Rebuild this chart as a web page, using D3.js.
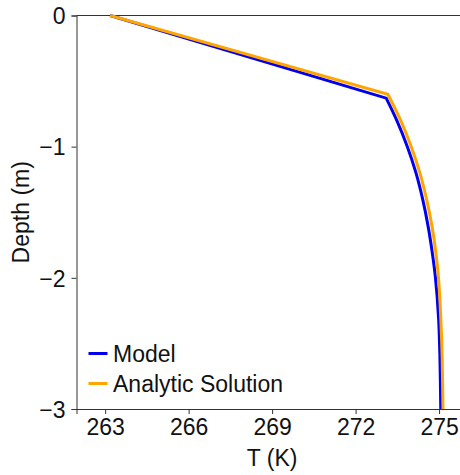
<!DOCTYPE html>
<html><head><meta charset="utf-8">
<script src="https://cdn.jsdelivr.net/npm/d3@7"></script>
<style>body{margin:0;background:#fff}svg{display:block}text{font-family:"Liberation Sans",Arial,sans-serif}</style>
</head><body><svg id="c" width="460" height="475"></svg>
<script>
const modelDepth = [0, -0.63, -0.8, -1.0, -1.2, -1.4, -1.6, -1.8, -2.0, -2.3, -2.6, -3.0];
const modelT     = [263.18, 273.10, 273.48, 273.86, 274.17, 274.41, 274.60, 274.75, 274.87, 274.98, 275.03, 275.06];
const analyticDepth = [0, -0.60, -0.8, -1.0, -1.2, -1.4, -1.6, -1.8, -2.0, -2.3, -2.6, -3.0];
const analyticT     = [263.18, 273.16, 273.62, 274.00, 274.31, 274.55, 274.74, 274.88, 274.98, 275.06, 275.11, 275.14];
const xTicks = [263, 266, 269, 272, 275];
const yTicks = [0, -1, -2, -3];
const seriesNames = ["Model", "Analytic Solution"];
const seriesColors = ["#0000ee", "#ffa500"];

const svg = d3.select("#c");
const x = d3.scaleLinear().domain([261.97, 276]).range([76.5, 466.9]);
const y = d3.scaleLinear().domain([0, -3]).range([15.5, 409]);

const fontSize = 23;
const ax = "#333";
const ff = '"Liberation Sans",Arial,sans-serif';

svg.append("line").attr("x1", x(261.97)).attr("x2", 470).attr("y1", y(0)).attr("y2", y(0)).attr("stroke", ax).attr("stroke-width", 1);

const xa = svg.append("g").attr("transform", `translate(0,${y(-3)})`)
  .call(d3.axisBottom(x).tickValues(xTicks).tickSize(5).tickPadding(5).tickFormat(d3.format("d")));
const ya = svg.append("g").attr("transform", `translate(${x(261.97)},0)`)
  .call(d3.axisLeft(y).tickValues(yTicks).tickSize(5).tickPadding(6).tickFormat(d => d < 0 ? "\u2212" + Math.abs(d) : d));
[xa, ya].forEach(g => {
  g.selectAll("path, line").attr("stroke", ax);
  g.selectAll("text").attr("font-size", fontSize).attr("fill", "#111").style("font-family", ff);
});
ya.selectAll("text").attr("dy", "0.36em");

svg.append("text").attr("x", x(269)).attr("y", 466).attr("text-anchor", "middle").attr("font-size", fontSize).attr("fill", "#111").text("T (K)");
svg.append("text").attr("transform", `translate(29,${(y(0) + y(-3)) / 2}) rotate(-90)`).attr("text-anchor", "middle").attr("font-size", fontSize).attr("fill", "#111").text("Depth (m)");

const line = d3.line().x(d => x(d[0])).y(d => y(d[1]));
const curve = d3.line().x(d => x(d[0])).y(d => y(d[1])).curve(d3.curveCatmullRom);
const series = [
  modelT.map((t, i) => [t, modelDepth[i]]),
  analyticT.map((t, i) => [t, analyticDepth[i]])
];
series.forEach((s, k) => {
  const top = s.slice(0, 2);
  const rest = s.slice(1);
  svg.append("path").attr("d", line(top) + curve(rest).replace(/^M/, "L"))
    .attr("fill", "none").attr("stroke", seriesColors[k]).attr("stroke-width", 3).attr("stroke-linejoin", "miter");
});

seriesNames.forEach((n, i) => {
  const yy = 353.5 + i * 30;
  svg.append("line").attr("x1", 88.5).attr("x2", 107.5).attr("y1", yy).attr("y2", yy).attr("stroke", seriesColors[i]).attr("stroke-width", 3);
  svg.append("text").attr("x", 113).attr("y", yy).attr("dy", "0.36em").attr("font-size", fontSize).attr("fill", "#111").text(n);
});
</script></body></html>
